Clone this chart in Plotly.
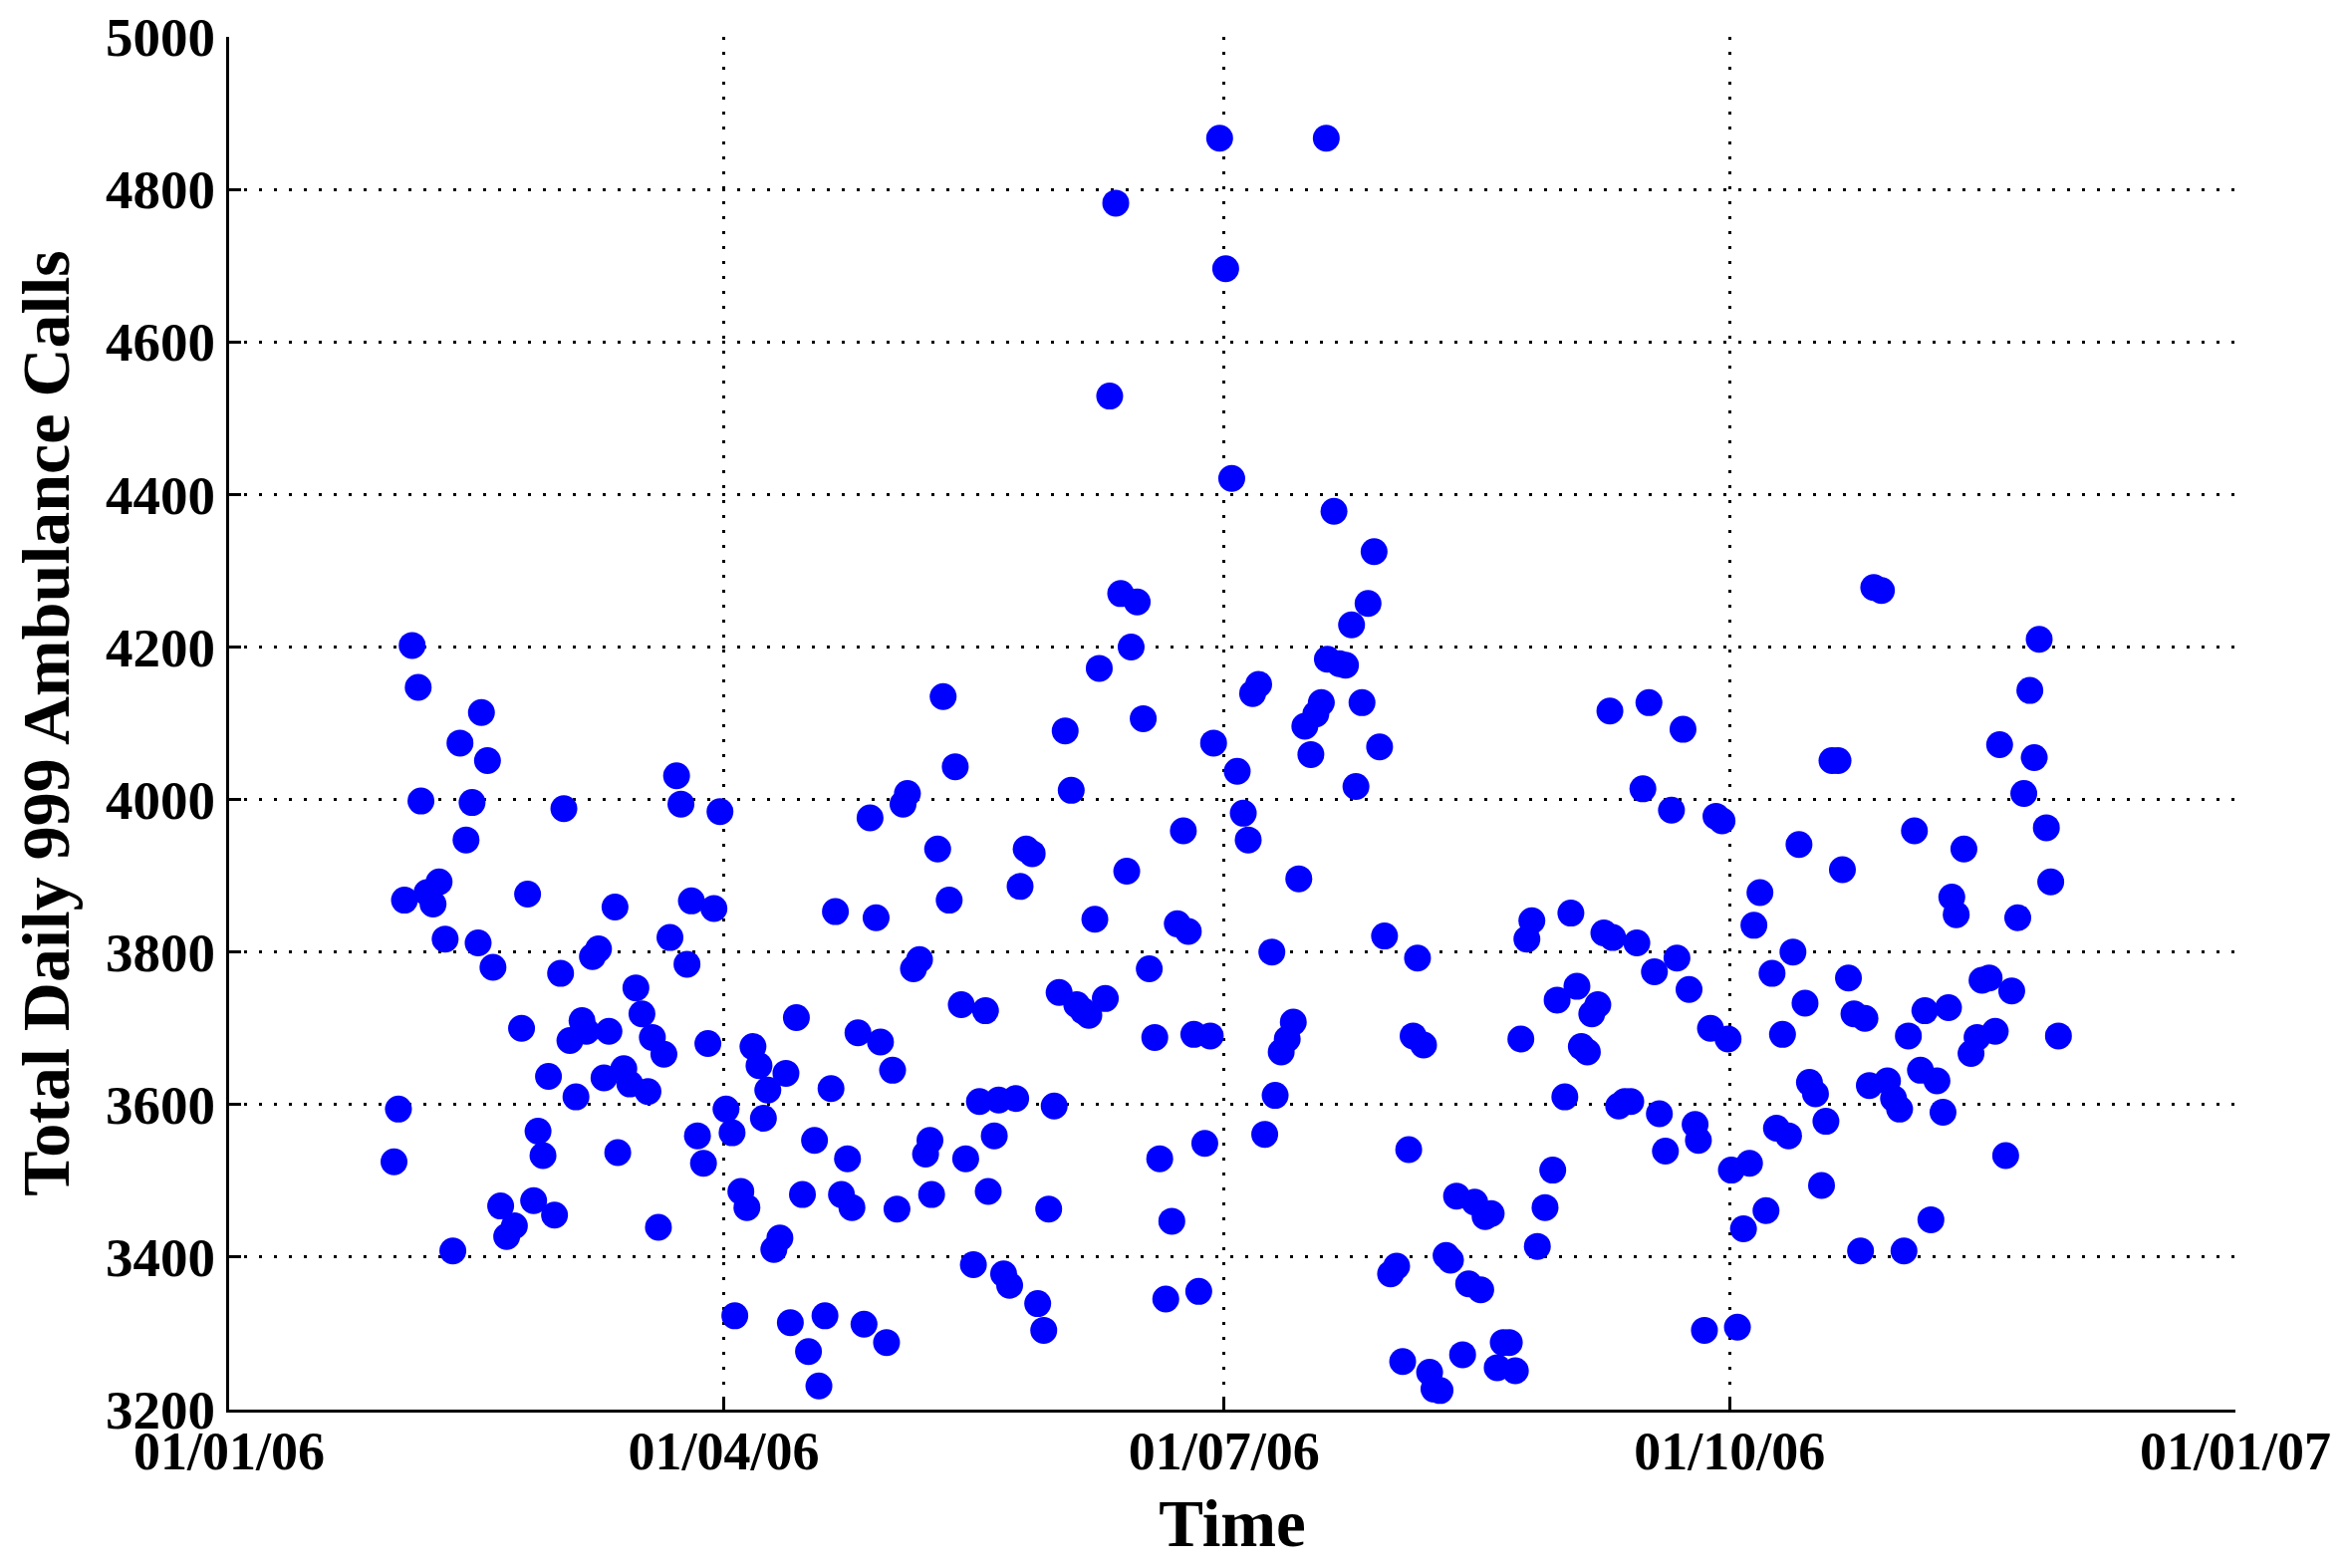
import pandas as pd
import plotly.graph_objects as go

# Day offsets from 01/01/2006 and daily totals
day_offsets = [
    30.0, 30.8, 31.9, 33.3, 34.4, 34.9, 36.0, 37.1, 38.2, 39.3,
    40.7, 42.0, 43.1, 44.2, 45.3, 45.9, 47.0, 48.0, 49.4, 50.5,
    51.9, 53.2, 54.3, 55.4, 56.2, 57.1, 58.1, 59.2, 60.3, 60.9,
    62.0, 63.1, 64.2, 65.0, 66.1, 67.2, 68.2, 69.1, 70.2, 70.7,
    71.8, 72.9, 74.0, 75.1, 76.2, 77.0, 78.1, 79.1, 80.2, 81.4,
    82.2, 83.3, 84.1, 85.2, 86.3, 87.1, 88.2, 89.3, 90.4, 91.5,
    92.0, 93.1, 94.2, 95.3, 96.4, 97.2, 98.0, 99.1, 100.2, 101.3,
    102.1, 103.2, 104.3, 105.4, 106.5, 107.3, 108.4, 109.5, 110.3, 111.4,
    112.5, 113.3, 114.4, 115.5, 116.6, 117.7, 118.5, 119.6, 120.7, 121.5,
    122.6, 123.4, 124.5, 125.6, 126.7, 127.5, 127.8, 128.9, 129.9, 131.0,
    132.1, 133.2, 134.0, 135.4, 136.5, 137.6, 138.1, 139.2, 140.0, 140.9,
    142.0, 143.1, 143.9, 145.0, 146.1, 147.1, 148.2, 149.1, 150.1, 151.0,
    152.1, 153.2, 154.2, 155.3, 156.4, 157.5, 158.3, 159.4, 160.2, 161.3,
    162.2, 163.3, 164.1, 165.2, 166.3, 167.4, 168.4, 169.3, 170.4, 171.5,
    172.5, 173.6, 174.5, 175.5, 176.4, 177.5, 178.5, 179.1, 180.2, 181.3,
    182.4, 183.4, 184.5, 185.4, 186.2, 187.3, 188.4, 189.7, 190.3, 191.4,
    192.5, 193.6, 194.6, 195.7, 196.8, 197.7, 198.7, 199.6, 199.8, 201.0,
    202.0, 203.1, 204.2, 205.0, 206.1, 207.2, 208.3, 209.3, 210.2, 211.3,
    212.4, 213.5, 214.6, 215.4, 216.2, 217.3, 218.4, 219.2, 220.3, 221.4,
    222.2, 223.3, 224.4, 225.5, 226.6, 227.7, 228.5, 229.6, 230.7, 231.8,
    232.9, 234.0, 235.0, 236.1, 237.0, 238.0, 239.4, 240.8, 241.6, 243.0,
    244.1, 245.2, 246.0, 247.1, 247.9, 249.0, 250.1, 251.2, 251.7, 252.8,
    253.9, 255.0, 256.1, 257.2, 258.3, 259.3, 260.2, 261.3, 262.4, 263.4,
    264.5, 265.6, 266.7, 267.3, 268.4, 269.5, 270.5, 271.6, 272.7, 273.3,
    274.4, 275.5, 276.6, 277.4, 278.5, 279.6, 280.7, 281.5, 282.6, 283.7,
    284.5, 285.6, 286.7, 287.5, 288.6, 289.7, 290.5, 291.6, 292.7, 293.5,
    294.6, 295.6, 296.8, 297.6, 298.4, 299.2, 300.6, 301.7, 302.8, 303.9,
    304.7, 305.5, 306.6, 307.7, 308.5, 309.6, 310.7, 311.8, 312.8, 313.4,
    314.2, 315.6, 316.9, 318.0, 318.9, 320.2, 321.3, 322.1, 323.2, 324.3,
    325.4, 326.5, 327.6, 328.4, 329.3, 330.6, 331.4, 332.8,
]

calls = [
    3525, 3594, 3868, 4202, 4147, 3998, 3878, 3863, 3892, 3817,
    3408, 4074, 3947, 3996, 3812, 4114, 4051, 3780, 3467, 3427,
    3441, 3700, 3876, 3474, 3565, 3533, 3637, 3455, 3772, 3988,
    3684, 3610, 3710, 3696, 3794, 3804, 3635, 3696, 3859, 3537,
    3647, 3627, 3753, 3719, 3617, 3688, 3439, 3666, 3819, 4031,
    3994, 3784, 3867, 3559, 3523, 3680, 3857, 3984, 3594, 3563,
    3323, 3486, 3465, 3676, 3651, 3582, 3619, 3410, 3425, 3641,
    3314, 3714, 3482, 3276, 3553, 3231, 3323, 3621, 3853, 3482,
    3529, 3465, 3694, 3312, 3976, 3845, 3682, 3288, 3645, 3463,
    3994, 4008, 3778, 3790, 3535, 3553, 3482, 3935, 4135, 3868,
    4043, 3731, 3529, 3390, 3604, 3723, 3486, 3559, 3606, 3378,
    3363, 3608, 3886, 3935, 3929, 3339, 3304, 3463, 3598, 3747,
    4090, 4012, 3731, 3723, 3717, 3843, 4172, 3739, 4529, 4782,
    4270, 3906, 4200, 4259, 4106, 3778, 3688, 3529, 3345, 3447,
    3837, 3959, 3827, 3692, 3355, 3549, 3690, 4074, 4867, 4696,
    4421, 4037, 3982, 3947, 4139, 4151, 3561, 3800, 3612, 3669,
    3686, 3708, 3896, 4096, 4059, 4112, 4127, 4867, 4184, 4378,
    4178, 4176, 4229, 4017, 4127, 4257, 4325, 4069, 3821, 3378,
    3388, 3263, 3541, 3690, 3792, 3678, 3249, 3227, 3225, 3402,
    3396, 3480, 3272, 3365, 3472, 3357, 3453, 3457, 3255, 3288,
    3288, 3251, 3686, 3817, 3841, 3414, 3465, 3514, 3737, 3610,
    3851, 3755, 3676, 3669, 3719, 3731, 3825, 4116, 3819, 3598,
    3604, 3604, 3812, 4014, 4127, 3774, 3588, 3539, 3986, 3792,
    4092, 3751, 3574, 3553, 3304, 3700, 3978, 3972, 3686, 3514,
    3308, 3437, 3523, 3835, 3878, 3461, 3772, 3569, 3692, 3559,
    3800, 3941, 3733, 3629, 3614, 3494, 3578, 4051, 4051, 3908,
    3766, 3719, 3408, 3713, 3625, 4278, 4274, 3631, 3608, 3594,
    3408, 3690, 3959, 3645, 3723, 3449, 3631, 3590, 3727, 3872,
    3849, 3935, 3667, 3688, 3763, 3766, 3696, 4072, 3533, 3749,
    3845, 4008, 4143, 4055, 4210, 3963, 3892, 3690,
]

x_tick_dates = ["2006-01-01", "2006-04-01", "2006-07-01", "2006-10-01", "2007-01-01"]
x_tick_labels = ["01/01/06", "01/04/06", "01/07/06", "01/10/06", "01/01/07"]
y_ticks = [3200, 3400, 3600, 3800, 4000, 4200, 4400, 4600, 4800, 5000]

dates = pd.Timestamp("2006-01-01") + pd.to_timedelta(day_offsets, unit="D")

FONT = "Liberation Serif"

fig = go.Figure(
    go.Scatter(
        x=dates,
        y=calls,
        mode="markers",
        marker=dict(color="#0000FF", size=27, line=dict(width=0)),
        showlegend=False,
    )
)

axis_common = dict(
    showgrid=True,
    gridcolor="black",
    gridwidth=3,
    griddash="3px,12px",
    zeroline=False,
    showline=True,
    linecolor="black",
    linewidth=3,
    ticks="inside",
    ticklen=12,
    tickwidth=3,
    tickcolor="black",
    automargin=False,
    ticklabeloverflow="allow",
)

fig.update_xaxes(
    **axis_common,
    range=[pd.Timestamp("2006-01-01"), pd.Timestamp("2007-01-01")],
    tickvals=pd.to_datetime(x_tick_dates),
    ticktext=x_tick_labels,
    tickfont=dict(family=FONT, size=54, color="black", weight="bold"),
    ticklabelstandoff=-8,
    title=dict(text="Time", font=dict(family=FONT, size=67, color="black", weight="bold"), standoff=20),
)
fig.update_yaxes(
    **axis_common,
    range=[3200, 5000],
    tickvals=y_ticks,
    tickfont=dict(family=FONT, size=55, color="black", weight="bold"),
    ticklabelstandoff=0,
    title=dict(text="Total Daily 999 Ambulance Calls",
               font=dict(family=FONT, size=68, color="black", weight="bold"), standoff=15),
)

fig.update_layout(
    width=2341,
    height=1558,
    margin=dict(l=222, r=105, t=29, b=151),
    plot_bgcolor="white",
    paper_bgcolor="white",
)

fig.write_html("out.html")
